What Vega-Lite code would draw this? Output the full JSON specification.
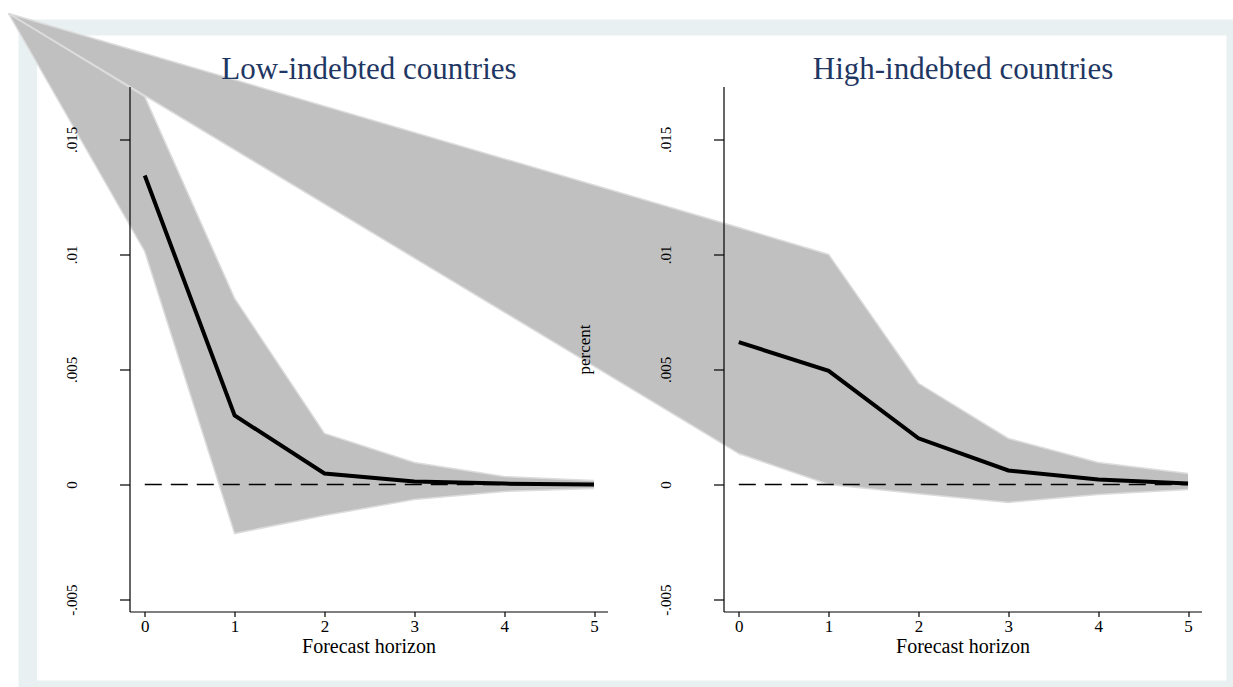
{
  "$schema": "https://vega.github.io/schema/vega-lite/v6.json",
  "autosize": {"type": "pad"},
  "padding": {"left": 5.5, "top": 10.5, "right": 0, "bottom": 0},
  "background": "white",
  "spacing": 116,
  "bounds": "flush",
  "datasets": {
    "one": [{}],
    "low": [
      {"h": 0, "est": 0.01343, "lo": 0.01013, "hi": 0.01686},
      {"h": 1, "est": 0.0030, "lo": -0.00213, "hi": 0.00809},
      {"h": 2, "est": 0.00048, "lo": -0.00135, "hi": 0.00222},
      {"h": 3, "est": 0.00013, "lo": -0.00065, "hi": 0.00096},
      {"h": 4, "est": 0.00004, "lo": -0.0003, "hi": 0.00035},
      {"h": 5, "est": 0.0, "lo": -0.00017, "hi": 0.00017}
    ],
    "lowband": [
      {"h": -1.5166, "lo": 0.020473, "hi": 0.020473},
      {"h": 0, "lo": 0.01013, "hi": 0.01686},
      {"h": 1, "lo": -0.00213, "hi": 0.00809},
      {"h": 2, "lo": -0.00135, "hi": 0.00222},
      {"h": 3, "lo": -0.00065, "hi": 0.00096},
      {"h": 4, "lo": -0.0003, "hi": 0.00035},
      {"h": 5, "lo": -0.00017, "hi": 0.00017}
    ],
    "high": [
      {"h": 0, "est": 0.00619, "lo": 0.00135, "hi": 0.01117},
      {"h": 1, "est": 0.00494, "lo": 0.0, "hi": 0.0100},
      {"h": 2, "est": 0.00201, "lo": -0.0004, "hi": 0.0044},
      {"h": 3, "est": 0.00061, "lo": -0.00078, "hi": 0.0020},
      {"h": 4, "est": 0.00022, "lo": -0.00043, "hi": 0.00096},
      {"h": 5, "est": 0.00004, "lo": -0.00022, "hi": 0.00048}
    ],
    "highwedge": [
      {"h": -1.5166, "lo": 0.020473, "hi": 0.020473},
      {"h": 6.64, "lo": 0.00128, "hi": 0.01114}
    ]
  },
  "hconcat": [
    {
      "width": 478,
      "height": 525,
      "resolve": {"axis": {"x": "independent"}},
      "layer": [
        {
          "data": {"name": "one"},
          "mark": {"type": "rect", "color": "#E8F0F2"},
          "encoding": {
            "x": {"datum": -1.4053, "type": "quantitative", "scale": {"domain": [-0.17, 5.15], "nice": false, "zero": false}, "axis": null},
            "x2": {"datum": 12.123},
            "y": {"datum": 0.020212, "type": "quantitative", "scale": {"domain": [-0.00552, 0.0173], "nice": false, "zero": false},
              "axis": {"orient": "left", "zindex": 1, "values": [-0.005, 0, 0.005, 0.01, 0.015], "labelExpr": "datum.value == 0 ? '0' : (datum.value < 0 ? '-' + substring(format(-datum.value, '.3~f'), 1) : substring(format(datum.value, '.3~f'), 1))", "tickSize": 10, "labelAngle": 270, "labelAlign": "center", "labelBaseline": "alphabetic", "labelPadding": 43, "labelFontSize": 15, "title": null}},
            "y2": {"datum": -0.0088454}
          }
        },
        {
          "data": {"name": "one"},
          "mark": {"type": "rect", "color": "#FFFFFF"},
          "encoding": {
            "x": {"datum": -1.1994, "type": "quantitative", "scale": {"domain": [-0.17, 5.15], "nice": false, "zero": false}, "axis": null},
            "x2": {"datum": 12.039},
            "y": {"datum": 0.019517, "type": "quantitative", "scale": {"domain": [-0.00552, 0.0173], "nice": false, "zero": false}},
            "y2": {"datum": -0.0085194}
          }
        },
        {
          "data": {"name": "highwedge"},
          "mark": {"type": "area", "color": "#C0C0C0"},
          "encoding": {
            "x": {"field": "h", "type": "quantitative", "scale": {"domain": [-0.17, 5.15], "nice": false, "zero": false}, "axis": null},
            "y": {"field": "hi", "type": "quantitative", "scale": {"domain": [-0.00552, 0.0173], "nice": false, "zero": false}},
            "y2": {"field": "lo"}
          }
        },
        {
          "data": {"name": "highwedge"},
          "mark": {"type": "line", "color": "#DCDCDC", "strokeWidth": 1.5},
          "encoding": {
            "x": {"field": "h", "type": "quantitative", "scale": {"domain": [-0.17, 5.15], "nice": false, "zero": false}, "axis": null},
            "y": {"field": "hi", "type": "quantitative", "scale": {"domain": [-0.00552, 0.0173], "nice": false, "zero": false}}
          }
        },
        {
          "data": {"name": "highwedge"},
          "mark": {"type": "line", "color": "#DCDCDC", "strokeWidth": 1.5},
          "encoding": {
            "x": {"field": "h", "type": "quantitative", "scale": {"domain": [-0.17, 5.15], "nice": false, "zero": false}, "axis": null},
            "y": {"field": "lo", "type": "quantitative", "scale": {"domain": [-0.00552, 0.0173], "nice": false, "zero": false}}
          }
        },
        {
          "data": {"name": "lowband"},
          "mark": {"type": "area", "color": "#C0C0C0"},
          "encoding": {
            "x": {"field": "h", "type": "quantitative", "scale": {"domain": [-0.17, 5.15], "nice": false, "zero": false}, "axis": null},
            "y": {"field": "hi", "type": "quantitative", "scale": {"domain": [-0.00552, 0.0173], "nice": false, "zero": false}},
            "y2": {"field": "lo"}
          }
        },
        {
          "data": {"name": "lowband"},
          "mark": {"type": "line", "color": "#DCDCDC", "strokeWidth": 1.5},
          "encoding": {
            "x": {"field": "h", "type": "quantitative", "scale": {"domain": [-0.17, 5.15], "nice": false, "zero": false}, "axis": null},
            "y": {"field": "hi", "type": "quantitative", "scale": {"domain": [-0.00552, 0.0173], "nice": false, "zero": false}}
          }
        },
        {
          "data": {"name": "lowband"},
          "mark": {"type": "line", "color": "#DCDCDC", "strokeWidth": 1.5},
          "encoding": {
            "x": {"field": "h", "type": "quantitative", "scale": {"domain": [-0.17, 5.15], "nice": false, "zero": false}, "axis": null},
            "y": {"field": "lo", "type": "quantitative", "scale": {"domain": [-0.00552, 0.0173], "nice": false, "zero": false}}
          }
        },
        {
          "data": {"name": "one"},
          "mark": {"type": "rule", "color": "black", "strokeWidth": 1.3, "strokeDash": [17, 9]},
          "encoding": {
            "x": {"datum": 0, "type": "quantitative", "scale": {"domain": [-0.17, 5.15], "nice": false, "zero": false},
              "axis": {"orient": "top", "zindex": 1, "title": "Low-indebted countries", "labels": false, "ticks": false, "domain": false, "titleFont": "Liberation Serif", "titleFontWeight": "normal", "titleFontSize": 31, "titleColor": "#1F3763", "titleBaseline": "alphabetic", "titlePadding": 8}},
            "x2": {"datum": 5},
            "y": {"datum": 0, "type": "quantitative", "scale": {"domain": [-0.00552, 0.0173], "nice": false, "zero": false}}
          }
        },
        {
          "data": {"name": "low"},
          "mark": {"type": "line", "color": "black", "strokeWidth": 4},
          "encoding": {
            "x": {"field": "h", "type": "quantitative", "scale": {"domain": [-0.17, 5.15], "nice": false, "zero": false},
              "axis": {"orient": "bottom", "zindex": 1, "values": [0, 1, 2, 3, 4, 5], "format": "d", "tickSize": 5, "labelFontSize": 17, "labelPadding": 2, "title": "Forecast horizon", "titleFontSize": 20, "titlePadding": 2}},
            "y": {"field": "est", "type": "quantitative", "scale": {"domain": [-0.00552, 0.0173], "nice": false, "zero": false}}
          }
        }
      ]
    },
    {
      "width": 478,
      "height": 525,
      "resolve": {"axis": {"x": "independent"}},
      "layer": [
        {
          "data": {"name": "high"},
          "mark": {"type": "area", "color": "#C0C0C0"},
          "encoding": {
            "x": {"field": "h", "type": "quantitative", "scale": {"domain": [-0.17, 5.15], "nice": false, "zero": false}, "axis": null},
            "y": {"field": "hi", "type": "quantitative", "scale": {"domain": [-0.00552, 0.0173], "nice": false, "zero": false},
              "axis": {"orient": "left", "zindex": 1, "values": [-0.005, 0, 0.005, 0.01, 0.015], "labelExpr": "datum.value == 0 ? '0' : (datum.value < 0 ? '-' + substring(format(-datum.value, '.3~f'), 1) : substring(format(datum.value, '.3~f'), 1))", "tickSize": 10, "labelAngle": 270, "labelAlign": "center", "labelBaseline": "alphabetic", "labelPadding": 43, "labelFontSize": 15, "title": "percent", "titleAngle": 270, "titleFontSize": 17, "titleAlign": "center", "titleBaseline": "alphabetic", "titleX": -134, "titleY": 262.5}},
            "y2": {"field": "lo"}
          }
        },
        {
          "data": {"name": "high"},
          "mark": {"type": "line", "color": "#DCDCDC", "strokeWidth": 1.5},
          "encoding": {
            "x": {"field": "h", "type": "quantitative", "scale": {"domain": [-0.17, 5.15], "nice": false, "zero": false}, "axis": null},
            "y": {"field": "hi", "type": "quantitative", "scale": {"domain": [-0.00552, 0.0173], "nice": false, "zero": false}}
          }
        },
        {
          "data": {"name": "high"},
          "mark": {"type": "line", "color": "#DCDCDC", "strokeWidth": 1.5},
          "encoding": {
            "x": {"field": "h", "type": "quantitative", "scale": {"domain": [-0.17, 5.15], "nice": false, "zero": false}, "axis": null},
            "y": {"field": "lo", "type": "quantitative", "scale": {"domain": [-0.00552, 0.0173], "nice": false, "zero": false}}
          }
        },
        {
          "data": {"name": "one"},
          "mark": {"type": "rule", "color": "black", "strokeWidth": 1.3, "strokeDash": [17, 9]},
          "encoding": {
            "x": {"datum": 0, "type": "quantitative", "scale": {"domain": [-0.17, 5.15], "nice": false, "zero": false},
              "axis": {"orient": "top", "zindex": 1, "title": "High-indebted countries", "labels": false, "ticks": false, "domain": false, "titleFont": "Liberation Serif", "titleFontWeight": "normal", "titleFontSize": 31, "titleColor": "#1F3763", "titleBaseline": "alphabetic", "titlePadding": 8}},
            "x2": {"datum": 5},
            "y": {"datum": 0, "type": "quantitative", "scale": {"domain": [-0.00552, 0.0173], "nice": false, "zero": false}}
          }
        },
        {
          "data": {"name": "high"},
          "mark": {"type": "line", "color": "black", "strokeWidth": 4},
          "encoding": {
            "x": {"field": "h", "type": "quantitative", "scale": {"domain": [-0.17, 5.15], "nice": false, "zero": false},
              "axis": {"orient": "bottom", "zindex": 1, "values": [0, 1, 2, 3, 4, 5], "format": "d", "tickSize": 5, "labelFontSize": 17, "labelPadding": 2, "title": "Forecast horizon", "titleFontSize": 20, "titlePadding": 2}},
            "y": {"field": "est", "type": "quantitative", "scale": {"domain": [-0.00552, 0.0173], "nice": false, "zero": false}}
          }
        }
      ]
    }
  ],
  "config": {
    "view": {"stroke": null},
    "axis": {
      "grid": false,
      "domainColor": "black",
      "domainWidth": 1.2,
      "tickColor": "black",
      "tickWidth": 1.2,
      "labelColor": "black",
      "titleColor": "black",
      "labelFont": "Liberation Serif",
      "titleFont": "Liberation Serif",
      "titleFontWeight": "normal"
    }
  }
}
